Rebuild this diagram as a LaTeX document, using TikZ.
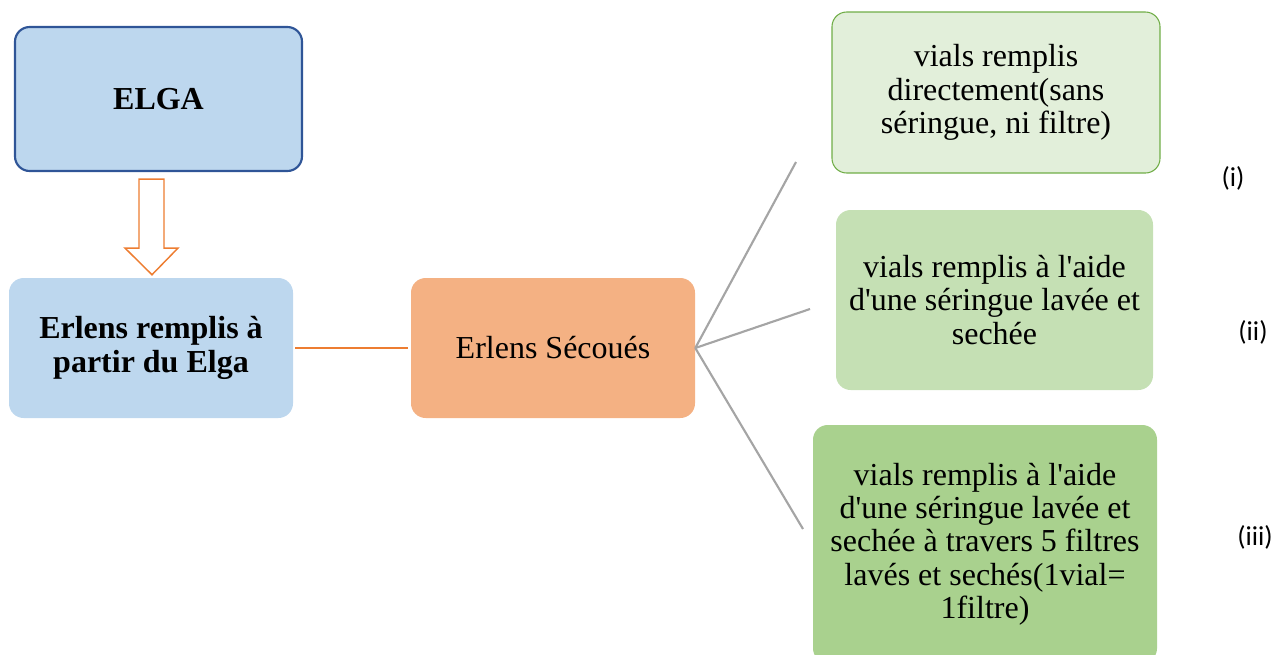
\documentclass[tikz,border=0pt]{standalone}
\usepackage{fontspec}
\setmainfont{Liberation Serif}
\newfontfamily\labelfont{Carlito}
\usetikzlibrary{calc}
\definecolor{boxblue}{HTML}{BDD7EE}
\definecolor{darkblue}{HTML}{2F5597}
\definecolor{boxorange}{HTML}{F4B183}
\definecolor{lineorange}{HTML}{ED7D31}
\definecolor{greenA}{HTML}{E2EFDA}
\definecolor{greenB}{HTML}{C5E0B4}
\definecolor{greenC}{HTML}{A9D18E}
\definecolor{greenborder}{HTML}{70AD47}
\definecolor{linegray}{HTML}{A5A5A5}
\tikzset{
  box/.style={rectangle, rounded corners=11pt, align=center, inner sep=0pt,
    font=\fontsize{24}{25}\selectfont},
  boldbox/.style={box, font=\fontsize{24}{25}\selectfont\bfseries},
  branch/.style={draw=linegray, line width=1.6pt},
  numlabel/.style={font=\labelfont\fontsize{20.5}{22}\selectfont, inner sep=0pt}
}
\newcommand{\apos}{\textquotesingle}
\begin{document}
\begin{tikzpicture}[x=0.75pt,y=-0.75pt]
\useasboundingbox (0,0) rectangle (1277,654);
\clip (0,0) rectangle (1277,654);
% nodes
\node[boldbox, fill=boxblue, draw=darkblue, line width=1.6pt,
  minimum width=215.25pt, minimum height=108pt] (elga) at (158.5,99) {ELGA};
\node[boldbox, fill=boxblue,
  minimum width=213pt, minimum height=105pt] (erl1) at (151,348) {Erlens remplis à\\partir du Elga};
\node[box, fill=boxorange,
  minimum width=213pt, minimum height=105pt] (erl2) at (553,348) {Erlens Sécoués};
\node[box, fill=greenA, draw=greenborder, line width=0.8pt,
  minimum width=246pt, minimum height=120.75pt] (v1) at (996,92.5) {vials remplis\\directement(sans\\séringue, ni filtre)};
\node[box, fill=greenB,
  minimum width=237.75pt, minimum height=135pt] (v2) at (994.5,300) {vials remplis à l\apos aide\\d\apos une séringue lavée et\\sechée};
\node[box, fill=greenC,
  minimum width=258pt, minimum height=178.5pt] (v3) at (985,544) {vials remplis à l\apos aide\\d\apos une séringue lavée et\\sechée à travers 5 filtres\\lavés et sechés(1vial=\\1filtre)};
% labels
\node[numlabel] (l1) at (1233,178) {(i)};
\node[numlabel] (l2) at (1253,332) {(ii)};
\node[numlabel] (l3) at (1255,537) {(iii)};
% hollow arrow ELGA -> Erlens remplis
\draw[draw=lineorange, line width=1.1pt, fill=white, line join=miter]
  ($(elga.south)+(-19.5,7)$) -- ($(elga.south)+(5.5,7)$) --
  ($(elga.south)+(5.5,76)$) -- ($(elga.south)+(19.5,76)$) --
  ($(erl1.north)+(1,-3)$) --
  ($(elga.south)+(-33.5,76)$) -- ($(elga.south)+(-19.5,76)$) -- cycle;
% orange connector
\draw[draw=lineorange, line width=1.6pt] ($(erl1.east)+(2,0)$) -- ($(erl2.west)+(-3,0)$);
% branches
\coordinate (b1) at (796,162);
\coordinate (b2) at (810,309);
\coordinate (b3) at (803,529);
\draw[branch] (erl2.east) -- (b1);
\draw[branch] (erl2.east) -- (b2);
\draw[branch] (erl2.east) -- (b3);
\end{tikzpicture}
\end{document}
